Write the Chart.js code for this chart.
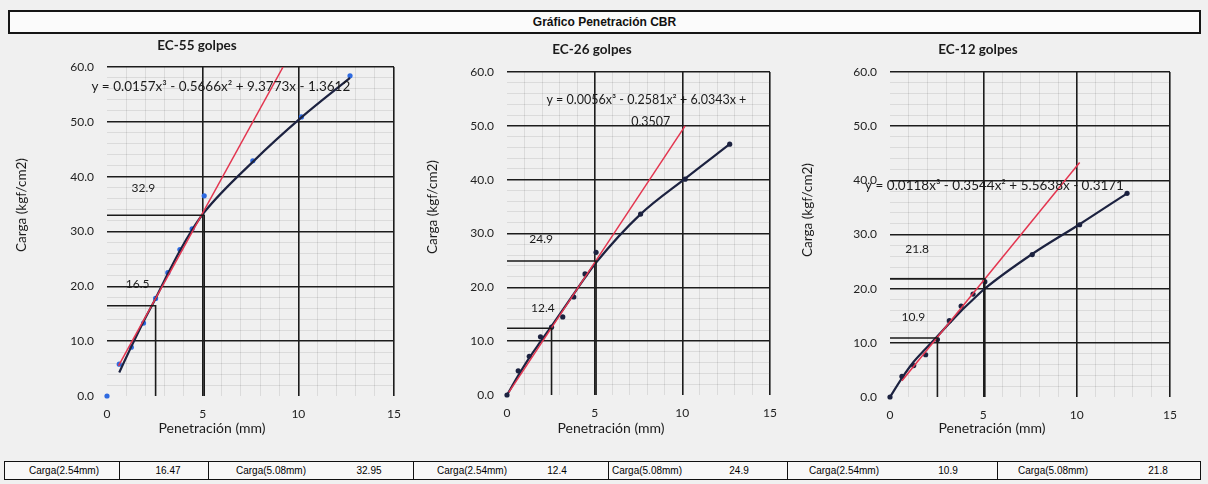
<!DOCTYPE html>
<html>
<head>
<meta charset="utf-8">
<script src="https://cdn.jsdelivr.net/npm/chart.js@4.4.1/dist/chart.umd.min.js"></script>
<style>
  body { margin: 0; width: 1208px; height: 484px; background: #f0f0f0; position: relative; overflow: hidden; font-family: Lato, sans-serif; }
  #titulo { position: absolute; left: 8px; top: 10px; width: 1189px; height: 20px; border: 2px solid #151515; background: #fbfbfb;
            font: bold 12px "Liberation Sans Narrow", "Liberation Sans", sans-serif; text-align: center; line-height: 20px; color: #111; }
  .caja { position: absolute; top: 36px; height: 410px; }
  #tabla { position: absolute; left: 4px; top: 461px; width: 1195px; height: 17px; border: 1.5px solid #111; background: #f8f8f8;
           font: 10px "Liberation Sans Narrow", "Liberation Sans", sans-serif; color: #000; }
  #tabla span { position: absolute; top: 0; line-height: 17px; transform: translateX(-50%); white-space: nowrap; }
  #tabla i { position: absolute; top: 0; height: 17px; border-left: 1.5px solid #111; }
</style>
</head>
<body>
<div id="titulo">Gráfico Penetración CBR</div>
<div class="caja" style="left:0;width:412px"><canvas id="g55"></canvas></div>
<div class="caja" style="left:412px;width:380px"><canvas id="g26"></canvas></div>
<div class="caja" style="left:792px;width:416px"><canvas id="g12"></canvas></div>
<div id="tabla"></div>
<script>
// penetraciones normalizadas del ensayo (mm)
const penetracion = [0, 0.64, 1.27, 1.91, 2.54, 3.18, 3.81, 4.45, 5.08, 7.62, 10.16, 12.7];
const penCarga = [2.54, 5.08];

// EC-55 golpes
const puntos55 = [0, 5.8, 8.9, 13.3, 17.8, 22.5, 26.7, 30.5, 36.5, 42.9, 50.9, 58.4];
const tendencia55 = [null, 4.3, 9.0, 13.6, 17.8, 22.3, 26.5, 30.3, 33.5, 42.7, 50.8, 58.0];
const tangenteX55 = [0.6, 9.2];
const tangenteY55 = [5.5, 60];
const carga55 = [16.47, 32.95];
const etiquetas55 = ['16.5', '32.9'];

// EC-26 golpes
const puntos26 = [0, 4.5, 7.2, 10.8, 12.6, 14.5, 18.2, 22.5, 26.5, 33.6, 40.1, 46.6];
const tendencia26 = [0, 3.6, 6.9, 9.9, 12.8, 15.8, 18.8, 21.8, 24.6, 33.6, 40.2, 46.6];
const tangenteX26 = [0.1, 10.16];
const tangenteY26 = [0.5, 50];
const carga26 = [12.4, 24.9];
const etiquetas26 = ['12.4', '24.9'];

// EC-12 golpes
const puntos12 = [0, 3.8, 5.8, 7.8, 10.6, 14.1, 16.8, 19.0, 21.3, 26.3, 31.8, 37.6];
const tendencia12 = [0, 3.5, 6.5, 8.9, 11.2, 13.6, 15.9, 18.0, 20.0, 26.4, 31.9, 37.6];
const tangenteX12 = [0.64, 10.16];
const tangenteY12 = [3.0, 43.3];
const carga12 = [10.9, 21.8];
const etiquetas12 = ['10.9', '21.8'];

// tabla inferior
const tablaTextos = ['Carga(2.54mm)', '16.47', 'Carga(5.08mm)', '32.95', 'Carga(2.54mm)', '12.4',
                     'Carga(5.08mm)', '24.9', 'Carga(2.54mm)', '10.9', 'Carga(5.08mm)', '21.8'];
const tablaCentros = [59, 163, 266, 364, 467, 552, 642, 734, 839, 943, 1048, 1153];
const tablaBordes = [114, 203, 408, 603, 782, 992];

Chart.defaults.font.family = 'Lato, sans-serif';
Chart.defaults.color = '#222';

// titulos y rotulos (posiciones como en la hoja de Excel, no centrados en el area)
const textos = {
  id: 'textos',
  afterDatasetsDraw(chart, args, o) {
    const { ctx, scales: { x, y } } = chart;
    ctx.save();
    ctx.fillStyle = '#1b1b1b';
    ctx.textAlign = 'center';
    ctx.textBaseline = 'middle';
    ctx.font = 'bold 13.5px Lato';
    ctx.fillText(o.titulo, o.tituloX, o.tituloY);
    ctx.font = '14px Lato';
    ctx.fillText('Penetración (mm)', o.ejeX, 392);
    ctx.save();
    ctx.translate(o.ejeYx, o.ejeYy);
    ctx.rotate(-Math.PI / 2);
    ctx.font = '13.5px Lato';
    ctx.fillText('Carga (kgf/cm2)', 0, 0);
    ctx.restore();
    ctx.font = o.fuenteEc + 'px Lato';
    o.ecuacion.forEach(e => ctx.fillText(e.t, x.getPixelForValue(e.x), y.getPixelForValue(e.y)));
    ctx.font = '12px Lato';
    o.etiquetas.forEach(e => ctx.fillText(e.t, x.getPixelForValue(e.x), y.getPixelForValue(e.y)));
    ctx.restore();
  }
};

function crearGrafico(id, c) {
  const anotaciones = penCarga.map((p, i) => ({
    type: 'line',
    data: [{ x: 0, y: c.carga[i] }, { x: p, y: c.carga[i] }, { x: p, y: 0 }],
    borderColor: '#1a1a1a', borderWidth: 1.6, pointRadius: 0, tension: 0
  }));
  new Chart(document.getElementById(id), {
    type: 'scatter',
    data: {
      datasets: [
        ...anotaciones,
        {
          type: 'line',
          data: c.tangX.map((v, i) => ({ x: v, y: c.tangY[i] })),
          borderColor: '#e3354f', borderWidth: 1.5, pointRadius: 0, tension: 0
        },
        {
          type: 'line',
          data: penetracion.map((v, i) => ({ x: v, y: c.tendencia[i] })),
          borderColor: '#1c2240', borderWidth: 2.2, pointRadius: 0,
          cubicInterpolationMode: 'monotone', spanGaps: true
        },
        {
          data: penetracion.map((v, i) => ({ x: v, y: c.puntos[i] })),
          backgroundColor: c.colorPunto, borderColor: c.colorPunto, pointRadius: 2.6, pointBorderWidth: 0,
          clip: false
        }
      ]
    },
    options: {
      responsive: true,
      maintainAspectRatio: false,
      animation: false,
      layout: { padding: { left: c.padIzq, right: c.padDer, top: c.padSup, bottom: c.padInf } },
      plugins: {
        legend: { display: false },
        tooltip: { enabled: false },
        textos: {
          titulo: c.titulo, tituloX: c.tituloX, tituloY: c.tituloY,
          ejeX: c.ejeX, ejeYx: c.ejeYx, ejeYy: c.ejeYy,
          ecuacion: c.ecuacion, fuenteEc: c.fuenteEc,
          etiquetas: c.etiquetas.map((t, i) => ({ t, x: c.posEtiq[i][0], y: c.posEtiq[i][1] }))
        }
      },
      scales: {
        x: {
          type: 'linear', min: 0, max: 15,
          afterFit: s => { s.height = 30; },
          border: { display: false },
          grid: {
            drawTicks: false,
            color: g => g.tick.value === 0 ? 'rgba(0,0,0,0)' : (g.tick.value % 5 === 0 ? '#1c1c1c' : 'rgba(70,70,70,0.16)'),
            lineWidth: g => g.tick.value % 5 === 0 ? 1.6 : 0.8
          },
          ticks: {
            stepSize: 1, autoSkip: false, maxRotation: 0, padding: 11,
            font: { size: 12 },
            callback: v => v % 5 === 0 ? String(v) : ''
          }
        },
        y: {
          min: 0, max: 60,
          afterFit: s => { s.width = c.anchoY; },
          border: { display: false },
          grid: {
            drawTicks: false,
            color: g => g.tick.value === 0 ? 'rgba(0,0,0,0)' : (g.tick.value % 10 === 0 ? '#1c1c1c' : 'rgba(70,70,70,0.16)'),
            lineWidth: g => g.tick.value % 10 === 0 ? 1.6 : 0.8
          },
          ticks: {
            stepSize: 2, autoSkip: false, padding: 13,
            font: { size: 12 },
            callback: v => v % 10 === 0 ? v.toFixed(1) : ''
          }
        }
      }
    },
    plugins: [textos]
  });
}

crearGrafico('g55', {
  puntos: puntos55, tendencia: tendencia55, tangX: tangenteX55, tangY: tangenteY55, carga: carga55,
  etiquetas: etiquetas55, posEtiq: [[1.6, 20.4], [1.9, 38]], colorPunto: '#2e6ae0',
  titulo: 'EC-55 golpes', tituloX: 197, tituloY: 10, ejeX: 212, ejeYx: 22, ejeYy: 169,
  ecuacion: [{ t: 'y = 0.0157x³ - 0.5666x² + 9.3773x - 1.3612', x: 5.95, y: 56.4 }], fuenteEc: 13.5,
  padIzq: 8, padDer: 15, padSup: 31, padInf: 20, anchoY: 99
});
crearGrafico('g26', {
  puntos: puntos26, tendencia: tendencia26, tangX: tangenteX26, tangY: tangenteY26, carga: carga26,
  etiquetas: etiquetas26, posEtiq: [[2.05, 16.2], [1.95, 29]], colorPunto: '#1c2240',
  titulo: 'EC-26 golpes', tituloX: 180, tituloY: 14, ejeX: 199, ejeYx: 21, ejeYy: 171,
  ecuacion: [{ t: 'y = 0.0056x³ - 0.2581x² + 6.0343x +', x: 7.95, y: 54.8 }, { t: '0.3507', x: 8.2, y: 50.7 }], fuenteEc: 12.5,
  padIzq: 8, padDer: 22, padSup: 36, padInf: 21, anchoY: 87
});
crearGrafico('g12', {
  puntos: puntos12, tendencia: tendencia12, tangX: tangenteX12, tangY: tangenteY12, carga: carga12,
  etiquetas: etiquetas12, posEtiq: [[1.25, 14.8], [1.45, 27.3]], colorPunto: '#1c2240',
  titulo: 'EC-12 golpes', tituloX: 186, tituloY: 14, ejeX: 200, ejeYx: 16, ejeYy: 174,
  ecuacion: [{ t: 'y = 0.0118x³ - 0.3544x² + 5.5638x - 0.3171', x: 5.6, y: 39.1 }], fuenteEc: 13.5,
  padIzq: 3, padDer: 38, padSup: 36, padInf: 19, anchoY: 95
});

const tabla = document.getElementById('tabla');
tablaBordes.forEach(b => {
  const i = document.createElement('i');
  i.style.left = b + 'px';
  tabla.appendChild(i);
});
tablaTextos.forEach((t, k) => {
  const s = document.createElement('span');
  s.textContent = t;
  s.style.left = tablaCentros[k] + 'px';
  tabla.appendChild(s);
});
</script>
</body>
</html>
